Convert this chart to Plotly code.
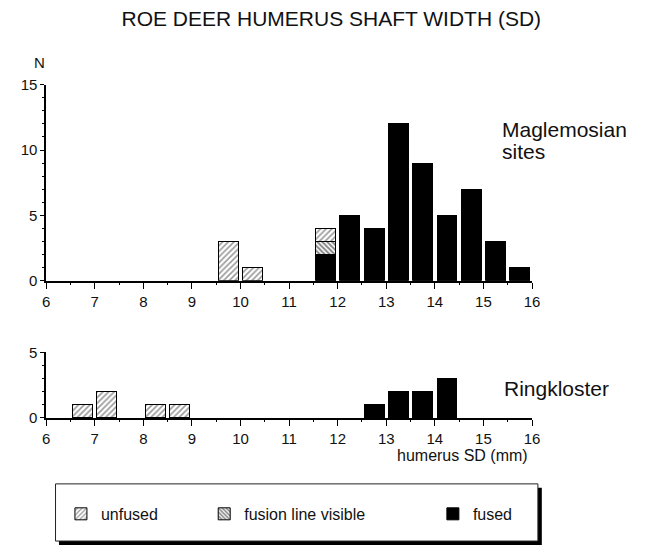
import plotly.graph_objects as go

# ---------------- data ----------------
# bin centres (mm), bins 0.5 mm wide
mag_unfused_x = [9.75, 10.25, 11.75]
mag_unfused_n = [3, 1, 1]
mag_fusion_x = [11.75]
mag_fusion_n = [1]
mag_fused_x = [11.75, 12.25, 12.75, 13.25, 13.75, 14.25, 14.75, 15.25, 15.75]
mag_fused_n = [2, 5, 4, 12, 9, 5, 7, 3, 1]

ring_unfused_x = [6.75, 7.25, 8.25, 8.75]
ring_unfused_n = [1, 2, 1, 1]
ring_fused_x = [12.75, 13.25, 13.75, 14.25]
ring_fused_n = [1, 2, 2, 3]

x_ticks = [6, 7, 8, 9, 10, 11, 12, 13, 14, 15, 16]
top_y_ticks = [0, 5, 10, 15]
bot_y_ticks = [0, 5]

# ---------------- styling ----------------
W, H = 646, 551
FONT = "Liberation Sans, Arial, Helvetica, sans-serif"
BAR_W = 0.41


def px(x):
    return x / W


def py(y):
    return (H - y) / H


unfused_marker = dict(color="white", line=dict(color="black", width=1),
                      pattern=dict(shape="/", size=4, solidity=0.4,
                                   fgcolor="#333", bgcolor="white"))
fusion_marker = dict(color="white", line=dict(color="black", width=1),
                     pattern=dict(shape="\\", size=3.5, solidity=0.55,
                                  fgcolor="#000", bgcolor="white"))
fused_marker = dict(color="black", line=dict(color="black", width=1))

fig = go.Figure()

# top panel (Maglemosian) - stacking order: fused, fusion, unfused
fig.add_trace(go.Bar(x=mag_fused_x, y=mag_fused_n, width=BAR_W, name="fused",
                     marker=fused_marker, xaxis="x", yaxis="y",
                     legend="legend3", showlegend=True))
fig.add_trace(go.Bar(x=mag_fusion_x, y=mag_fusion_n, width=BAR_W,
                     name="fusion line visible", marker=fusion_marker,
                     xaxis="x", yaxis="y", legend="legend2", showlegend=True))
fig.add_trace(go.Bar(x=mag_unfused_x, y=mag_unfused_n, width=BAR_W,
                     name="unfused", marker=unfused_marker,
                     xaxis="x", yaxis="y", legend="legend", showlegend=True))

# bottom panel (Ringkloster)
fig.add_trace(go.Bar(x=ring_fused_x, y=ring_fused_n, width=BAR_W, name="fused",
                     marker=fused_marker, xaxis="x2", yaxis="y2",
                     showlegend=False))
fig.add_trace(go.Bar(x=ring_unfused_x, y=ring_unfused_n, width=BAR_W,
                     name="unfused", marker=unfused_marker,
                     xaxis="x2", yaxis="y2", showlegend=False))

xdom = [px(43), px(538)]
axis_common = dict(showline=True, linecolor="black", linewidth=1.5,
                   showgrid=False, zeroline=False, ticks="outside",
                   tickcolor="black", tickwidth=1.2,
                   tickfont=dict(family=FONT, size=15, color="#111"))

xax = dict(axis_common, range=[6, 16], tickvals=x_ticks, ticklen=6,
           minor=dict(dtick=0.5, tick0=6, ticks="outside", ticklen=2,
                      tickcolor="black", tickwidth=1.2),
           domain=xdom, fixedrange=True)

legend_font = dict(family=FONT, size=16, color="#111")

fig.update_layout(
    width=W, height=H, autosize=False,
    margin=dict(l=0, r=0, t=0, b=0),
    paper_bgcolor="white", plot_bgcolor="white",
    barmode="stack",
    font=dict(family=FONT, color="#111"),
    xaxis=dict(xax, anchor="y"),
    yaxis=dict(axis_common, range=[0, 15], tickvals=top_y_ticks, ticklen=4,
               minor=dict(dtick=1, ticks="outside", ticklen=2,
                          tickcolor="black", tickwidth=1),
               domain=[py(280.5), py(78)], anchor="x"),
    xaxis2=dict(xax, anchor="y2"),
    yaxis2=dict(axis_common, range=[0, 5], tickvals=bot_y_ticks, ticklen=4,
                minor=dict(dtick=1, ticks="outside", ticklen=2,
                           tickcolor="black", tickwidth=1),
                domain=[py(422), py(354.3)], anchor="x2"),
    title=dict(text="ROE DEER HUMERUS SHAFT WIDTH (SD)",
               x=px(333.5), xanchor="center", xref="paper",
               y=py(19), yanchor="middle", yref="container",
               font=dict(family=FONT, size=21, color="#111")),
    legend=dict(x=px(58), y=py(521), xanchor="left", yanchor="middle",
                bgcolor="rgba(0,0,0,0)", borderwidth=0, font=legend_font),
    legend2=dict(x=px(204), y=py(521), xanchor="left", yanchor="middle",
                 bgcolor="rgba(0,0,0,0)", borderwidth=0, font=legend_font),
    legend3=dict(x=px(437), y=py(521), xanchor="left", yanchor="middle",
                 bgcolor="rgba(0,0,0,0)", borderwidth=0, font=legend_font),
    shapes=[
        # legend box shadow
        dict(type="rect", xref="paper", yref="paper", layer="below",
             x0=px(56), x1=px(548), y0=py(553), y1=py(494),
             fillcolor="black", line=dict(width=0)),
        # legend box
        dict(type="rect", xref="paper", yref="paper", layer="below",
             x0=px(52.5), x1=px(544), y0=py(549), y1=py(490),
             fillcolor="white", line=dict(color="#222", width=1)),
    ],
    annotations=[
        dict(text="N", x=px(36), y=py(55), xref="paper", yref="paper",
             xanchor="center", yanchor="middle", showarrow=False,
             font=dict(family=FONT, size=15, color="#111")),
        dict(text="Maglemosian", x=px(505), y=py(124), xref="paper",
             yref="paper", xanchor="left", yanchor="middle", showarrow=False,
             font=dict(family=FONT, size=21, color="#111")),
        dict(text="sites", x=px(505), y=py(147), xref="paper",
             yref="paper", xanchor="left", yanchor="middle", showarrow=False,
             font=dict(family=FONT, size=21, color="#111")),
        dict(text="Ringkloster", x=px(507), y=py(392), xref="paper",
             yref="paper", xanchor="left", yanchor="middle", showarrow=False,
             font=dict(family=FONT, size=21, color="#111")),
        dict(text="humerus SD (mm)", x=px(467), y=py(461), xref="paper",
             yref="paper", xanchor="center", yanchor="middle",
             showarrow=False,
             font=dict(family=FONT, size=16, color="#111")),
    ],
)

fig.write_html("out.html")
